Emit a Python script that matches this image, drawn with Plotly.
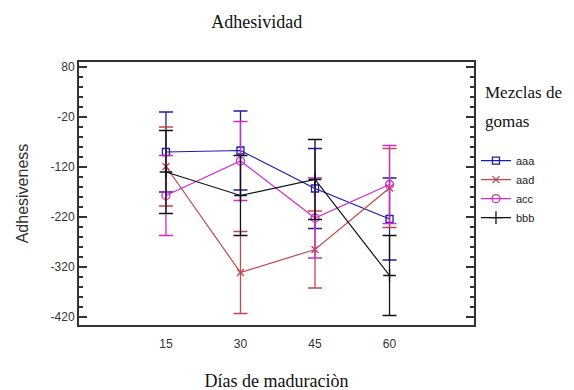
import plotly.graph_objects as go

dias = [15, 30, 45, 60]
series_names = ["aaa", "aad", "acc", "bbb"]
aaa_mean = [-90, -87, -163, -224]
aaa_err = [80, 79, 80, 82]
aad_mean = [-119, -331, -285, -162]
aad_err = [79, 82, 77, 79]
acc_mean = [-177, -108, -222, -155]
acc_err = [80, 79, 80, 78]
bbb_mean = [-130, -177, -145, -337]
bbb_err = [83, 80, 80, 80]

y_tickvals = [80, -20, -120, -220, -320, -420]
y_ticktext = ["80", "-20", "-120", "-220", "-320", "-420"]
x_tickvals = [15, 30, 45, 60]
x_ticktext = ["15", "30", "45", "60"]

means = [aaa_mean, aad_mean, acc_mean, bbb_mean]
errs = [aaa_err, aad_err, acc_err, bbb_err]
colors = ["#1c1ca8", "#c04848", "#cc2ccc", "#111111"]
markers = ["square-open", "x-thin-open", "circle-open", "cross-thin-open"]
msizes = [7, 7, 8, 9]

fig = go.Figure()
for name, m, e, c, mk, ms in zip(series_names, means, errs, colors, markers, msizes):
    fig.add_trace(go.Scatter(
        x=dias, y=m, name=name, mode="lines+markers",
        line=dict(color=c, width=1.2),
        marker=dict(symbol=mk, size=ms, color=c, line=dict(color=c, width=1.3)),
        error_y=dict(type="data", array=e, visible=True, color=c, thickness=1.3, width=7),
    ))

# the page body has an 8px margin, so the figure is laid out 8px up/left
fig.update_layout(
    width=574, height=390,
    margin=dict(l=71, r=108, t=54, b=73),
    paper_bgcolor="white", plot_bgcolor="white",
    showlegend=True,
    title=dict(text="Adhesividad", x=0.45, xref="paper", xanchor="center",
               y=1 - 14 / 390, yanchor="middle",
               font=dict(family="Liberation Serif", size=18, color="#111")),
    legend=dict(x=1.005, xanchor="left", y=0.68, yanchor="top",
                font=dict(family="Liberation Sans", size=11, color="#222"),
                bgcolor="rgba(0,0,0,0)", tracegroupgap=0),
    annotations=[
        dict(text="Mezclas de", xref="paper", yref="paper", x=(483 - 79) / 395, y=(325 - 92) / 263,
             xanchor="left", yanchor="middle", showarrow=False,
             font=dict(family="Liberation Serif", size=17, color="#111")),
        dict(text="gomas", xref="paper", yref="paper", x=(483 - 79) / 395, y=(325 - 122) / 263,
             xanchor="left", yanchor="middle", showarrow=False,
             font=dict(family="Liberation Serif", size=17, color="#111")),
    ],
)

fig.update_xaxes(
    range=[-2.5, 77], tickvals=x_tickvals, ticktext=x_ticktext,
    showgrid=False, zeroline=False, showline=True, linecolor="#333", linewidth=2,
    mirror=True, ticks="", ticklabelstandoff=7, automargin=False,
    tickfont=dict(family="Liberation Sans", size=12, color="#333"),
    title=dict(text="Días de maduraciòn", standoff=24,
               font=dict(family="Liberation Serif", size=18, color="#111")),
)
fig.update_yaxes(
    range=[-436, 90], tickvals=y_tickvals, ticktext=y_ticktext,
    showgrid=False, zeroline=False, showline=True, linecolor="#333", linewidth=2,
    mirror="ticks", ticks="inside", ticklen=8, tickwidth=1.5, tickcolor="#333",
    minor=dict(ticks="inside", tick0=80, dtick=20, ticklen=4, tickwidth=1.5, tickcolor="#333", showgrid=False),
    automargin=False,
    tickfont=dict(family="Liberation Sans", size=12, color="#333"),
    title=dict(text="Adhesiveness", standoff=18,
               font=dict(family="Liberation Sans", size=16, color="#333")),
)

fig.write_html("out.html")
